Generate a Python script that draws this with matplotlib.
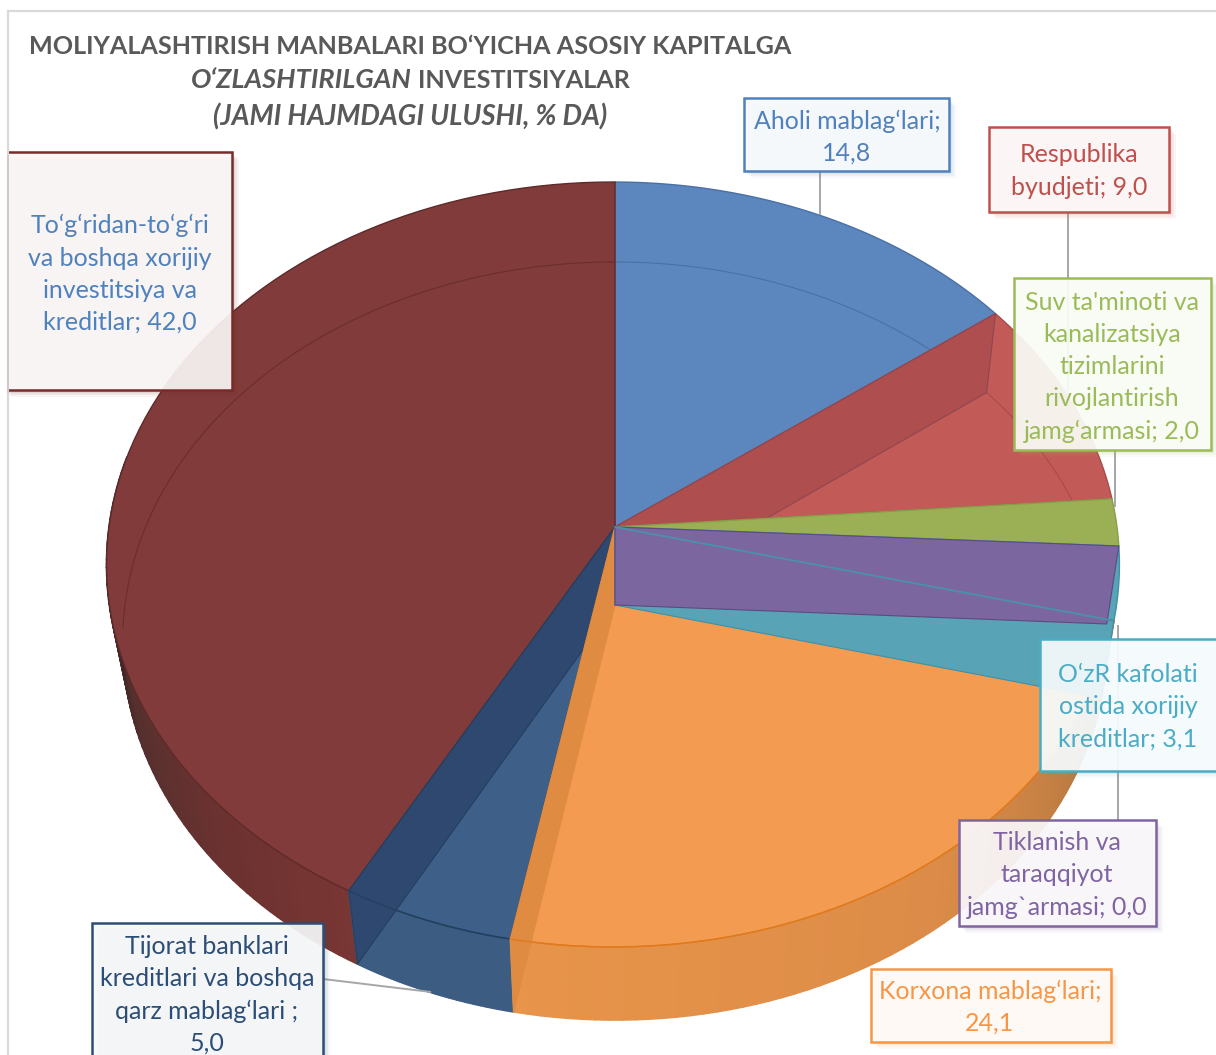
import numpy as np
import matplotlib
matplotlib.use('Agg')
import matplotlib.pyplot as plt
from matplotlib.colors import to_rgb
from matplotlib.patches import Polygon, Rectangle

plt.rcParams['font.family'] = ['Lato', 'DejaVu Sans']

# data
labels = [
    "Aholi mablag‘lari;\n14,8",
    "Respublika\nbyudjeti; 9,0",
    "Suv ta'minoti va\nkanalizatsiya\ntizimlarini\nrivojlantirish\njamg‘armasi; 2,0",
    "O‘zR kafolati\nostida xorijiy\nkreditlar; 3,1",
    "Tiklanish va\ntaraqqiyot\njamg`armasi; 0,0",
    "Korxona mablag‘lari;\n24,1",
    "Tijorat banklari\nkreditlari va boshqa\nqarz mablag‘lari ;\n5,0",
    "To‘g‘ridan-to‘g‘ri\nva boshqa xorijiy\ninvestitsiya va\nkreditlar; 42,0",
]
values = [14.8, 9.0, 2.0, 3.1, 0.0, 24.1, 5.0, 42.0]

# styles, same order as values
text_colors = ['#4F81BD', '#C0504D', '#9BBB59', '#4BACC6', '#8064A2', '#F79646', '#2C4D75', '#4F81BD']
border_colors = ['#4F81BD', '#C0504D', '#9BBB59', '#4BACC6', '#8064A2', '#F79646', '#2C4D75', '#772C2A']
top_colors = ['#5B87BE', '#C25B57', '#9BAF55', '#58A3B5', '#7C66A0', '#F49B52', '#3E5F87', '#803B3A']
edge_colors = ['#4A70A4', '#A84B4B', '#8A9E4A', '#3F90A8', '#5C4A80', '#E07A1E', '#24405F', '#5E2A2A']

# label boxes: left, top, right, bottom in pixels
boxes = [
    (744, 98, 949, 171),
    (989, 127, 1169, 212),
    (1014, 278, 1211, 450),
    (1040, 639, 1230, 771),
    (959, 820, 1156, 926),
    (871, 969, 1111, 1042),
    (92, 923, 323, 1075),
    (4, 152, 232, 390),
]
text_centers = [(847, 137), (1079, 171), (1112, 367), (1128, 707), (1057, 875), (990, 1007), (207, 995), (120, 274)]
leaders = [
    ((820, 171), (820, 215)),
    ((1068, 212), (1068, 400)),
    ((1115, 450), (1115, 507)),
    ((1118, 625), (1118, 820)),
    ((323, 979), (431, 992)),
]

# pie projection, top disc and bottom disc
TOP = dict(cx=615, cy=527, a=504, b=378.8, k=0.098, j=0.004)
BOT = dict(cx=615, cy=605, a=490, b=375.6, k=0.095, j=0.0)

bounds = np.concatenate([[0], np.cumsum(values)]) / 100


def rim(frac, d):
    t = 2 * np.pi * np.asarray(frac)
    u, v = np.sin(t), np.cos(t)
    w = 1 + d['k'] * v + d['j'] * u
    return np.column_stack([d['cx'] + d['a'] * u / w, d['cy'] - d['b'] * v / w])


def center(d):
    return np.array([[d['cx'], d['cy']]])


def arc(f0, f1, d, n=80):
    return rim(np.linspace(f0, f1, n), d)


fig = plt.figure(figsize=(12.16, 10.55), dpi=100, facecolor='white')
ax = fig.add_axes([0, 0, 1, 1])
ax.set_xlim(0, 1216)
ax.set_ylim(1055, 0)
ax.axis('off')

z = [2.0]


def poly(pts, fc, ec=None, lw=0.8, closed=True):
    z[0] += 0.001
    p = Polygon(pts, closed=closed, facecolor=fc if fc else 'none', edgecolor=ec if ec else (fc or 'none'),
                linewidth=lw, zorder=z[0], joinstyle='round')
    ax.add_patch(p)
    return p


def top_wedge(i):
    poly(np.vstack([center(TOP), arc(bounds[i], bounds[i + 1], TOP)]), top_colors[i], edge_colors[i], 1.0)


def wall(f, fc, ec):
    pts = np.vstack([center(TOP), rim([f], TOP), rim([f], BOT), center(BOT)])
    poly(pts, fc, ec, 0.8)


def side(f0, f1, fracs, cols, n=60):
    rgb = np.array([to_rgb(c) for c in cols])
    fs = np.linspace(f0, f1, n + 1)
    for a, b in zip(fs[:-1], fs[1:]):
        m = (a + b) / 2
        c = [np.interp(m, fracs, rgb[:, j]) for j in range(3)]
        pts = np.vstack([rim([a, b], TOP), rim([b, a], BOT)])
        poly(pts, tuple(c), tuple(c), 1.2)


# frame
ax.plot([8, 8], [1055, 11], color='#D9D9D9', lw=1.6, zorder=1)
ax.plot([8, 1216], [11, 11], color='#D9D9D9', lw=1.6, zorder=1)

# blue
top_wedge(0)
poly(arc(0, 0.16, BOT), None, '#4A70A4', 0.8, closed=False)

# big dark red wedge with its outer wall
side(bounds[7], 0.78, [0.58, 0.63, 0.69, 0.76], ['#783634', '#6C3230', '#54302E', '#2E1E1E'])
top_wedge(7)
poly(arc(0.74, 1.0, BOT), None, '#6A2E2E', 0.8, closed=False)

# navy
side(bounds[6], bounds[7], [0.53, 0.58], ['#3D5C82', '#3D5C82'])
top_wedge(6)
wall(bounds[7], '#2E4870', '#24405F')
poly(arc(bounds[6], bounds[7], TOP), None, '#24405F', 1.0, closed=False)

# orange
side(bounds[5], bounds[6], [0.289, 0.33, 0.40, 0.53], ['#A06C3E', '#BE7C42', '#DC8C48', '#E8944A'])
top_wedge(5)
wall(bounds[6], '#E08B42', '#E08B42')
poly(arc(bounds[5], bounds[6], TOP), None, '#E07A1E', 1.0, closed=False)

# red, wall at the blue boundary
top_wedge(1)
wall(bounds[1], '#AE4E4F', '#8F4650')
poly(arc(bounds[1], bounds[2], BOT), None, '#A84B4B', 0.8, closed=False)

# green
top_wedge(2)

# teal top and walls, zero slice sits on top
top_wedge(3)
wall(bounds[4], '#58A3B5', '#3F90A8')
wall(bounds[3], top_colors[4], edge_colors[4])
poly(np.vstack([center(TOP), rim([bounds[4]], TOP)]), None, '#4E8FA8', 1.4, closed=False)

# leader lines
for a, b in leaders:
    ax.plot([a[0], b[0]], [a[1], b[1]], color='#A6A6A6', lw=1.4, zorder=5, solid_capstyle='butt')

# label boxes
clip = Rectangle((9, 0), 1216, 1055, transform=ax.transData)
for i in range(len(labels)):
    x0, y0, x1, y1 = boxes[i]
    ec = to_rgb(border_colors[i])
    for off, al in [(7, 0.05), (5, 0.07), (3, 0.09)]:
        s = Rectangle((x0 + off, y0 + off), x1 - x0, y1 - y0, facecolor=ec, edgecolor='none',
                      alpha=al, zorder=6)
        ax.add_patch(s)
    fc = tuple(0.96 + 0.04 * c for c in ec)
    r = Rectangle((x0, y0), x1 - x0, y1 - y0, facecolor=fc + (0.92,), edgecolor=ec, linewidth=1.8, zorder=7)
    ax.add_patch(r)
    r.set_clip_path(clip)
    ax.text(text_centers[i][0], text_centers[i][1], labels[i], color=text_colors[i], fontsize=18.0,
            ha='center', va='center', multialignment='center', linespacing=1.48, zorder=8)

# title
tc = '#595959'
ax.text(29, 46, "MOLIYALASHTIRISH MANBALARI BO‘YICHA ASOSIY KAPITALGA", color=tc, fontsize=18.1,
        fontweight='bold', ha='left', va='center', zorder=9)
ax.text(412, 80, "O‘ZLASHTIRILGAN", color=tc, fontsize=19.5, fontweight='bold', style='italic',
        ha='right', va='center', zorder=9)
ax.text(418, 80, "INVESTITSIYALAR", color=tc, fontsize=18.1, fontweight='bold', ha='left', va='center', zorder=9)
ax.text(410, 117, "(JAMI HAJMDAGI ULUSHI, % DA)", color=tc, fontsize=19.8, fontweight='bold', style='italic',
        ha='center', va='center', zorder=9)

fig.savefig('out.png', dpi=100)
